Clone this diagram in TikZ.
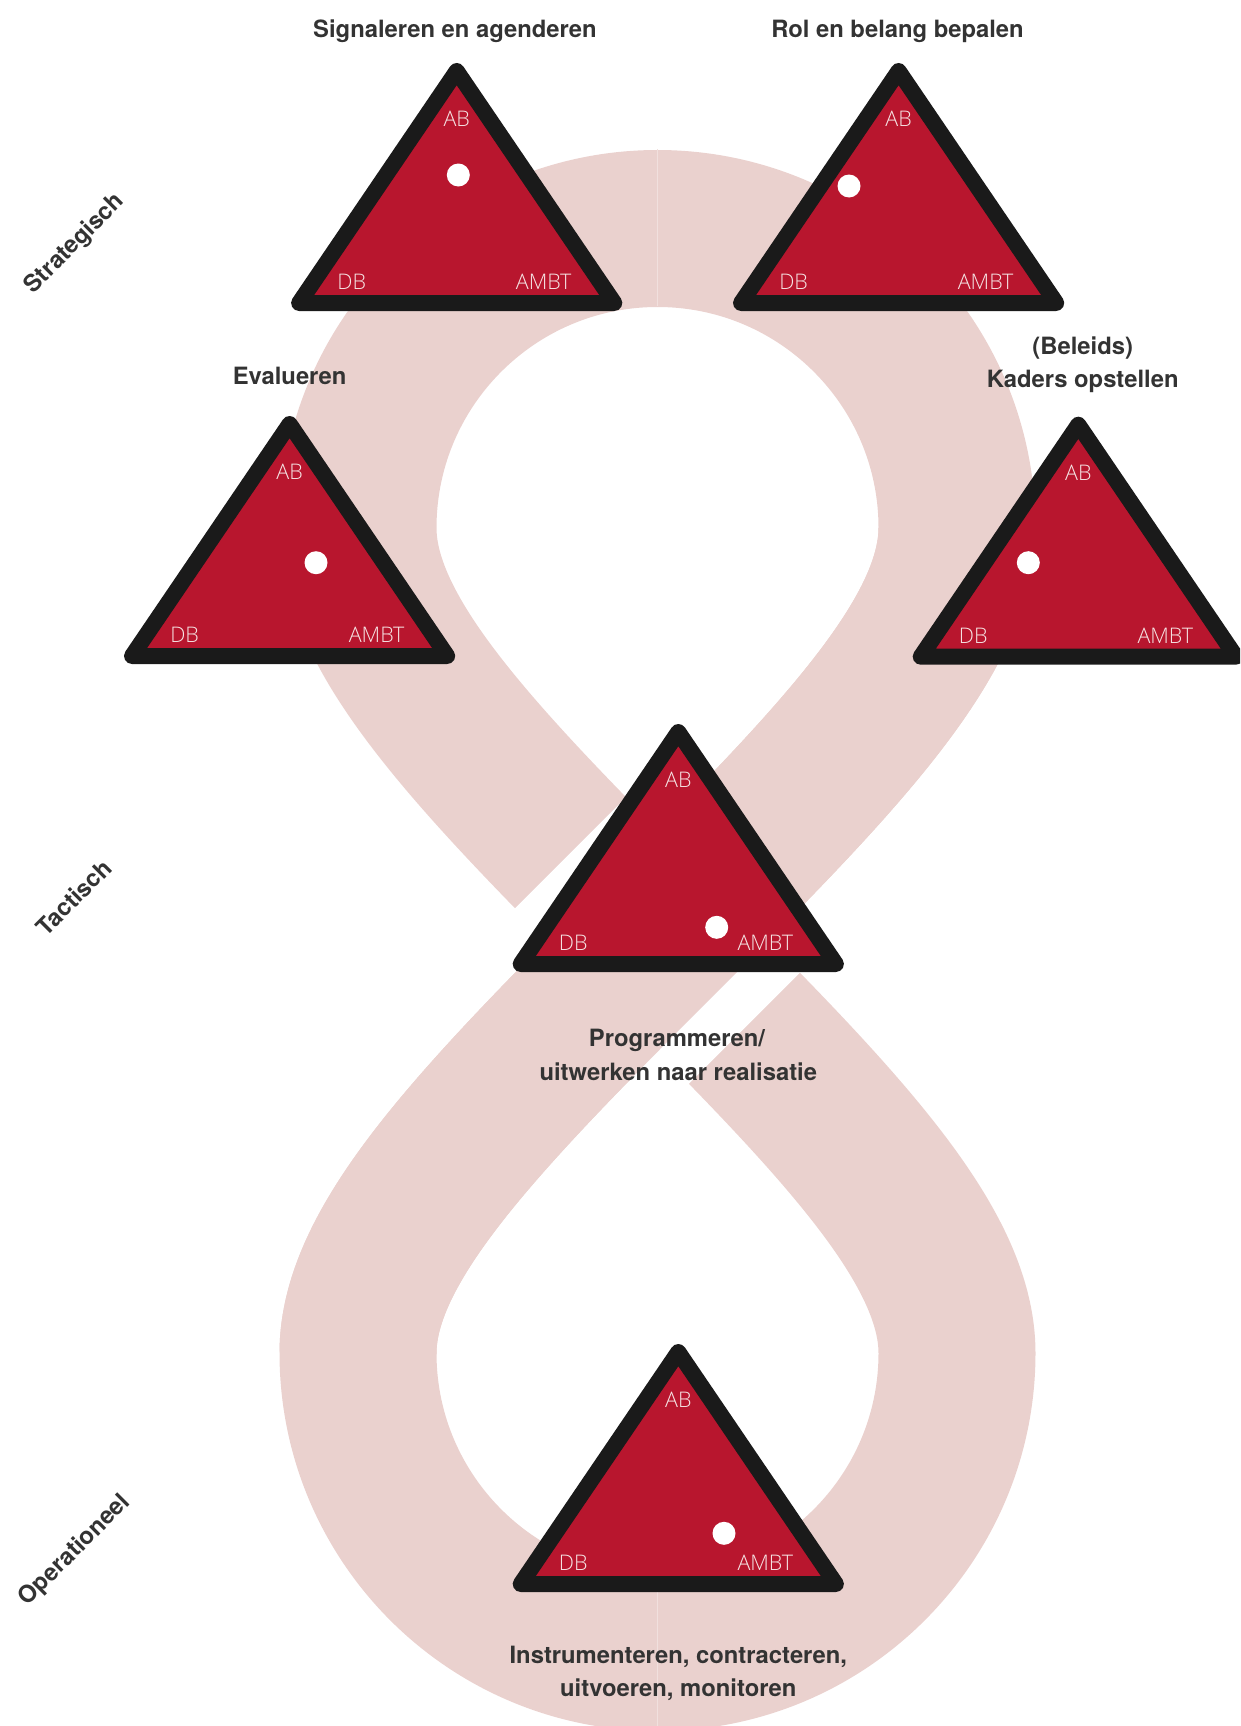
\documentclass[tikz,border=0pt]{standalone}
\usepackage{fontspec}
\setmainfont{TeX Gyre Heros}
\newfontfamily\lightfont{Open Sans Light}
\usetikzlibrary{calc}
\definecolor{band}{RGB}{234,209,206}
\definecolor{seam}{RGB}{241,224,222}
\definecolor{trired}{RGB}{184,22,46}
\definecolor{triblack}{RGB}{26,26,26}
\definecolor{titlegray}{RGB}{51,51,51}
\definecolor{labelpink}{RGB}{246,228,228}
\tikzset{
  bandline/.style={draw=band, line width=157pt},
  gapline/.style={draw=white, line width=247pt},
  seamline/.style={draw=seam, line width=1pt},
  tri/.style={fill=trired, draw=triblack, line width=16pt, line join=round},
  whitedot/.style={fill=white},
  title/.style={font=\fontsize{23.8}{28}\selectfont\bfseries, text=titlegray, inner sep=0pt, anchor=base},
  lbl/.style={font=\lightfont\fontsize{21.5}{24}\selectfont, text=labelpink, inner sep=0pt},
  layerlbl/.style={font=\fontsize{23.8}{28}\selectfont\bfseries, text=titlegray, inner sep=0pt, anchor=center, rotate=45}
}
\newcommand\mytri[5]{%
  \filldraw[tri] (#2,#3) -- ++(157.6,232) -- ++(-315.2,0) -- cycle;
  \fill[whitedot] (#4,#5) circle[radius=11.5];
  \node[lbl] (#1ab) at ($(#2,#3)+(0,48)$) {AB};
  \node[lbl] (#1db) at ($(#2,#3)+(-105,211)$) {DB};
  \node[lbl] (#1ambt) at ($(#2,#3)+(87,211)$) {AMBT};
}
\begin{document}
\begin{tikzpicture}[x=1pt,y=-1pt]
\useasboundingbox (0,0) rectangle (1240,1726);
\clip (0,0) rectangle (1240,1726);
% figure-eight band
\path[bandline] (358,528) arc[start angle=180,end angle=360,radius=299.5]
  .. controls (957,638) and (834.3,763.7) .. (657.5,940.5)
  .. controls (480.7,1117.3) and (358,1243) .. (358,1353)
  arc[start angle=180,end angle=0,radius=299.5]
  .. controls (957,1243) and (834.3,1117.3) .. (657.5,940.5)
  .. controls (480.7,763.7) and (358,638) .. cycle;
\coordinate (gapa) at (590.3,1007.7);
\coordinate (gapb) at (724.7,873.3);
\draw[gapline] (gapa) -- (gapb);
\draw[bandline] (957,528) .. controls (957,638) and (834.3,763.7) .. (657.5,940.5)
  .. controls (480.7,1117.3) and (358,1243) .. (358,1353);
\draw[seamline] (657.5,149) -- (657.5,306);
\draw[seamline] (657.5,1574) -- (657.5,1726);
% triangles
\mytri{t1}{456.7}{71}{458.3}{175}
\mytri{t2}{898.6}{71}{849}{186}
\mytri{t3}{289.6}{424}{316}{562.7}
\mytri{t4}{1078.3}{424.7}{1028.3}{562.7}
\mytri{t5}{678.3}{732}{716.7}{927.3}
\mytri{t6}{678.3}{1352}{724}{1533.3}
% titles
\node[title] (s1) at (455,37.3) {Signaleren en agenderen};
\node[title] (s2) at (897.5,37.3) {Rol en belang bepalen};
\node[title] (s3) at (289.6,384.6) {Evalueren};
\node[title] (s4a) at (1082.7,354.3) {(Beleids)};
\node[title] (s4b) at (1082.7,387.7) {Kaders opstellen};
\node[title] (s5a) at (677,1046.7) {Programmeren/};
\node[title] (s5b) at (678.3,1080) {uitwerken naar realisatie};
\node[title] (s6a) at (678.3,1663.3) {Instrumenteren, contracteren,};
\node[title] (s6b) at (678.3,1696.7) {uitvoeren, monitoren};
% layers
\node[layerlbl] (lstrat) at (75,244) {Strategisch};
\node[layerlbl] (ltact) at (73.8,897.5) {Tactisch};
\node[layerlbl] (loper) at (74.9,1550.5) {Operationeel};
\end{tikzpicture}
\end{document}
